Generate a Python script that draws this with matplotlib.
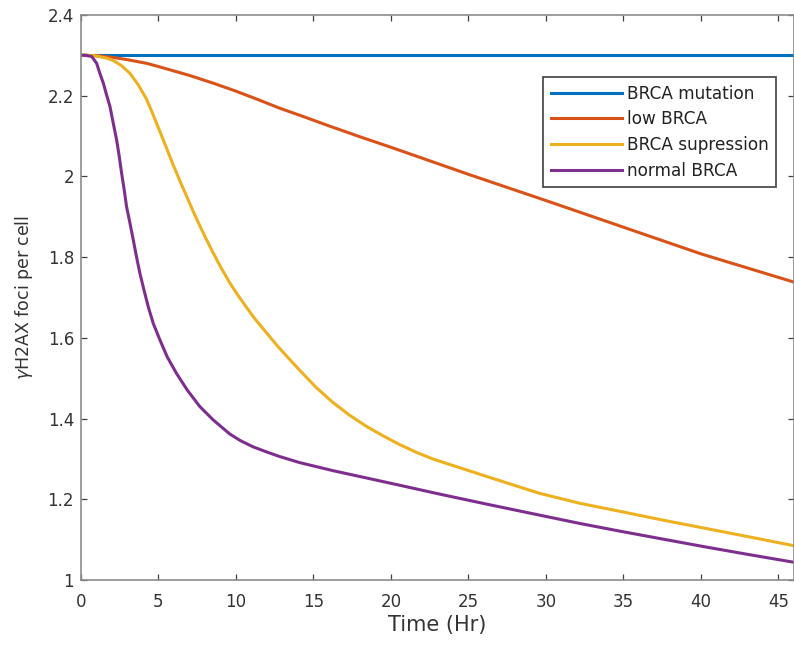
import matplotlib
matplotlib.use('Agg')
import matplotlib.pyplot as plt

# values
t_mut = [0, 46]
v_mut = [2.3, 2.3]

t_low = [0, 1, 2, 3, 4.23, 5, 6, 7, 8.52, 10, 11.5, 12.81, 14.5, 16, 18, 20,
         25, 30, 35, 40, 46]
v_low = [2.3, 2.299, 2.295, 2.289, 2.280, 2.272, 2.261, 2.250, 2.231, 2.211,
         2.189, 2.169, 2.146, 2.125, 2.098, 2.072, 2.005, 1.940, 1.874, 1.808,
         1.738]

t_sup = [0, 0.4, 1.01, 1.65, 2.08, 2.62, 3.16, 3.69, 4.23, 4.66, 5.09, 5.52,
         5.95, 6.37, 6.80, 7.23, 7.66, 8.09, 8.52, 9.06, 9.59, 10.13, 10.67,
         11.20, 11.74, 12.28, 12.81, 14.10, 15.2, 16.25, 17.3, 18.40, 19.5,
         20.54, 21.6, 22.69, 26.3, 29.56, 32.2, 34.92, 37.6, 40.29, 43.1, 46]
v_sup = [2.3, 2.3, 2.298, 2.293, 2.287, 2.274, 2.255, 2.227, 2.191, 2.152,
         2.111, 2.070, 2.028, 1.990, 1.952, 1.914, 1.878, 1.844, 1.811, 1.772,
         1.737, 1.705, 1.676, 1.648, 1.623, 1.598, 1.574, 1.520, 1.476, 1.440,
         1.409, 1.381, 1.357, 1.336, 1.317, 1.300, 1.255, 1.215, 1.190, 1.169,
         1.148, 1.128, 1.107, 1.085]

t_norm = [0, 0.26, 0.69, 1.01, 1.22, 1.44, 1.65, 1.87, 2.08, 2.30, 2.47, 2.62,
          2.79, 2.94, 3.16, 3.37, 3.58, 3.80, 4.06, 4.34, 4.66, 5.09, 5.56,
          6.16, 6.85, 7.66, 8.52, 9.59, 10.3, 11.1, 12.0, 12.81, 14.10, 16.25,
          18.40, 20.54, 23.12, 26.3, 29.56, 32.2, 34.92, 37.6, 40.29, 43.1, 46]
v_norm = [2.3, 2.3, 2.297, 2.280, 2.255, 2.231, 2.202, 2.173, 2.132, 2.090,
          2.049, 2.008, 1.966, 1.925, 1.884, 1.843, 1.801, 1.760, 1.719, 1.677,
          1.636, 1.595, 1.553, 1.512, 1.471, 1.430, 1.397, 1.362, 1.345, 1.330,
          1.317, 1.306, 1.291, 1.271, 1.253, 1.235, 1.213, 1.187, 1.161, 1.140,
          1.120, 1.101, 1.082, 1.063, 1.044]

labels = ['BRCA mutation', 'low BRCA', 'BRCA supression', 'normal BRCA']
colors = ['#0072BD', '#D95319', '#EDB120', '#7E2F8E']
yticks = [1, 1.2, 1.4, 1.6, 1.8, 2, 2.2, 2.4]
ytick_labels = ['1', '1.2', '1.4', '1.6', '1.8', '2', '2.2', '2.4']

plt.rcParams['font.family'] = ['DejaVu Sans']
plt.rcParams['mathtext.fontset'] = 'dejavusans'

fig = plt.figure(figsize=(7.94, 6.47), dpi=100)
ax = fig.add_axes([0.102, 0.1035, 0.898, 0.8735])

series = [(t_mut, v_mut), (t_low, v_low), (t_sup, v_sup), (t_norm, v_norm)]
for (t, v), lab, c in zip(series, labels, colors):
    ax.plot(t, v, color=c, linewidth=2.2, label=lab, solid_joinstyle='round')

ax.set_xlim(0, 46)
ax.set_ylim(1, 2.4)
ax.set_xticks(range(0, 46, 5))
ax.set_yticks(yticks)
ax.set_yticklabels(ytick_labels)

text_c = '#333333'
for s in ax.spines.values():
    s.set_color('#8c8c8c')
    s.set_linewidth(1.2)
ax.tick_params(direction='in', length=4, width=0.9, colors='#404040',
               labelsize=12, labelcolor=text_c, top=True, right=True)
ax.tick_params(axis='x', pad=9)
ax.tick_params(axis='y', pad=5)

ax.set_xlabel('Time (Hr)', fontsize=15, color=text_c, labelpad=3)
ax.set_ylabel(r'$\gamma$H2AX foci per cell', fontsize=12.5, color=text_c,
              labelpad=9)

leg = ax.legend(loc='upper left', bbox_to_anchor=(0.648, 0.890),
                borderaxespad=0, fontsize=12.2, handlelength=4.2,
                handletextpad=0.3, labelspacing=0.45, borderpad=0.45,
                fancybox=False, framealpha=1)
leg.get_frame().set_edgecolor('#404040')
leg.get_frame().set_linewidth(1.2)
for txt in leg.get_texts():
    txt.set_color('#222222')

fig.savefig('out.png', dpi=100)
